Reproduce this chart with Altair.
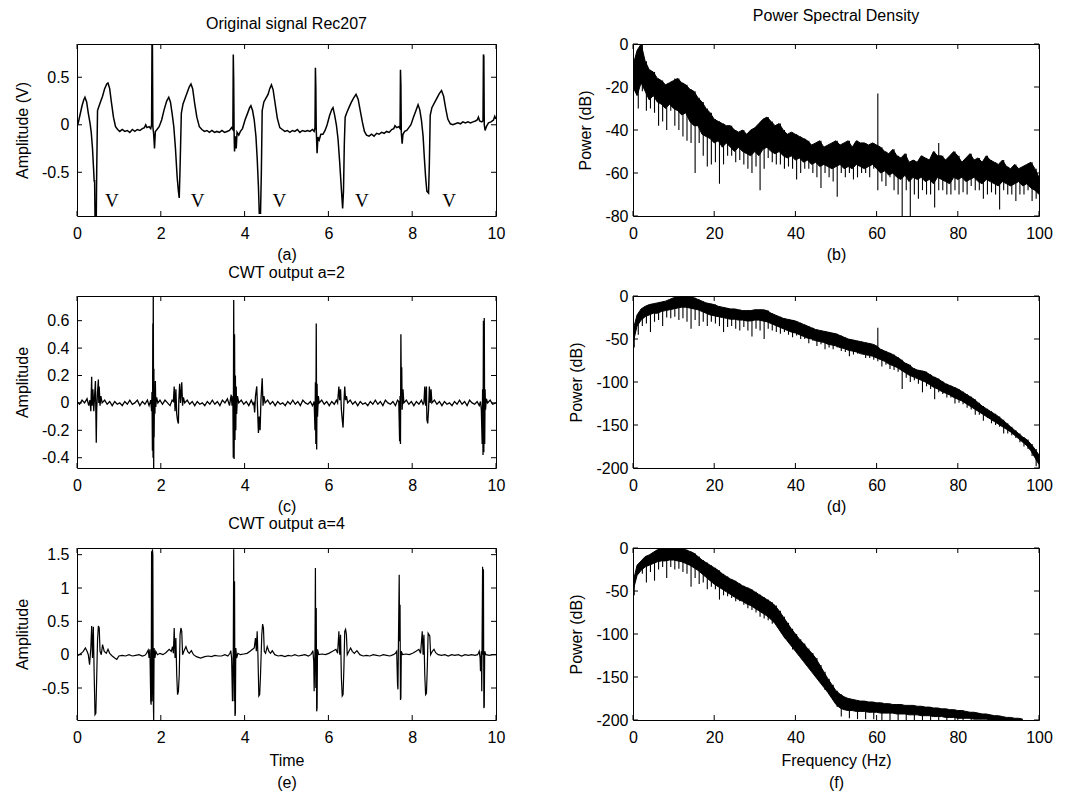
import altair as alt
import pandas as pd

FONT = "Liberation Sans"

# ---------------- data ----------------
# (a) original ECG signal, Rec207: (time s, amplitude V)
ecg_points = [
    (0.00,-0.02),(0.03,0.02),(0.07,0.10),(0.12,0.20),(0.16,0.26),(0.19,0.29),(0.23,0.24),(0.27,0.12),(0.31,0.02),
    (0.34,-0.08),(0.37,-0.25),(0.40,-0.50),(0.41,-0.60),(0.42,-0.58),(0.43,-0.97),(0.46,-0.97),(0.47,-0.50),(0.49,0.15),
    (0.52,0.19),(0.56,0.24),(0.61,0.30),(0.66,0.38),(0.71,0.43),(0.74,0.44),(0.78,0.38),(0.82,0.24),(0.87,0.08),
    (0.92,-0.02),(0.97,-0.05),(1.02,-0.07),(1.08,-0.05),(1.14,-0.07),(1.20,-0.06),(1.26,-0.08),(1.32,-0.05),(1.38,-0.07),
    (1.44,-0.05),(1.50,-0.06),(1.56,-0.04),(1.61,-0.03),(1.64,0.00),(1.67,-0.03),(1.72,-0.02),(1.76,-0.04),(1.78,0.00),
    (1.79,0.86),(1.80,0.86),(1.81,-0.02),(1.83,-0.10),(1.85,-0.25),(1.87,-0.07),(1.91,-0.05),(1.96,-0.02),
    (2.02,0.05),(2.08,0.16),(2.14,0.25),(2.19,0.29),(2.23,0.24),(2.27,0.12),(2.31,-0.02),(2.35,-0.25),(2.39,-0.55),
    (2.42,-0.70),(2.44,-0.77),(2.46,-0.45),(2.49,0.12),(2.53,0.22),(2.58,0.28),(2.63,0.34),(2.68,0.40),(2.72,0.43),
    (2.76,0.38),(2.81,0.22),(2.86,0.08),(2.92,-0.02),(2.98,-0.05),(3.04,-0.07),(3.10,-0.06),(3.16,-0.08),(3.22,-0.06),
    (3.28,-0.08),(3.34,-0.07),(3.40,-0.08),(3.46,-0.06),(3.52,-0.08),(3.58,-0.07),(3.64,-0.06),(3.69,-0.03),(3.72,-0.05),
    (3.73,0.74),(3.74,0.46),(3.75,-0.10),(3.76,-0.28),(3.78,-0.12),(3.80,-0.25),(3.82,-0.08),(3.86,-0.11),(3.90,-0.07),(3.95,-0.04),
    (4.01,0.05),(4.07,0.12),(4.12,0.18),(4.15,0.20),(4.19,0.15),(4.23,0.05),(4.27,-0.12),(4.30,-0.35),(4.33,-0.65),
    (4.35,-0.93),(4.38,-0.93),(4.40,-0.50),(4.42,0.15),(4.46,0.24),(4.51,0.28),(4.56,0.32),(4.60,0.38),(4.64,0.42),
    (4.68,0.37),(4.73,0.22),(4.78,0.07),(4.84,-0.03),(4.90,-0.05),(4.96,-0.07),(5.02,-0.06),(5.08,-0.08),(5.14,-0.06),
    (5.20,-0.07),(5.26,-0.05),(5.32,-0.08),(5.38,-0.06),(5.44,-0.07),(5.50,-0.06),(5.56,-0.07),(5.62,-0.05),(5.66,-0.07),
    (5.68,-0.03),(5.69,0.60),(5.70,0.40),(5.71,-0.05),(5.73,-0.30),(5.75,-0.13),(5.78,-0.16),(5.82,-0.10),(5.87,-0.10),
    (5.92,-0.06),(5.97,0.00),
    (6.03,0.10),(6.08,0.16),(6.11,0.18),(6.15,0.10),(6.19,0.00),(6.23,-0.15),(6.27,-0.40),(6.31,-0.68),(6.34,-0.88),
    (6.36,-0.70),(6.38,-0.20),(6.40,0.08),(6.44,0.13),(6.49,0.18),(6.54,0.23),(6.60,0.28),(6.66,0.32),(6.71,0.27),
    (6.76,0.15),(6.81,0.03),(6.86,-0.07),(6.91,-0.11),(6.97,-0.12),(7.03,-0.10),(7.09,-0.12),(7.15,-0.09),(7.21,-0.10),
    (7.27,-0.08),(7.33,-0.09),(7.39,-0.07),(7.45,-0.08),(7.51,-0.05),(7.56,-0.04),(7.59,-0.01),(7.63,-0.03),(7.68,-0.02),
    (7.71,-0.04),(7.72,0.58),(7.73,0.42),(7.74,-0.08),(7.76,-0.20),(7.78,-0.10),(7.82,-0.07),(7.87,-0.06),(7.92,-0.03),(7.97,0.00),
    (8.03,0.08),(8.09,0.15),(8.14,0.21),(8.18,0.16),(8.22,0.05),(8.26,-0.12),(8.29,-0.35),(8.32,-0.55),(8.35,-0.70),
    (8.39,-0.72),(8.41,-0.40),(8.43,0.10),(8.47,0.18),(8.53,0.23),(8.59,0.28),(8.65,0.33),(8.70,0.36),(8.75,0.30),
    (8.80,0.17),(8.85,0.06),(8.91,0.01),(8.97,0.00),(9.03,0.01),(9.09,0.02),(9.15,0.01),(9.21,0.03),(9.27,0.02),
    (9.33,0.03),(9.39,0.02),(9.45,0.03),(9.51,0.04),(9.55,0.05),(9.58,0.08),(9.61,0.04),(9.66,0.03),(9.69,0.04),
    (9.70,0.74),(9.71,0.72),(9.72,0.00),(9.74,-0.06),(9.77,-0.02),(9.82,0.02),(9.88,0.03),(9.94,0.05),(9.97,0.09),(10.00,0.06),
]
v_label_t = [0.83, 2.88, 4.83, 6.80, 8.88]
v_label_y = [-0.80, -0.80, -0.80, -0.80, -0.80]
v_label_s = ["V", "V", "V", "V", "V"]

# (c) CWT output a=2
cwt2_points = [
    (0.00,0.01),(0.06,-0.01),(0.12,0.02),(0.18,0.00),(0.24,0.03),(0.28,-0.02),(0.31,0.02),
    (0.33,-0.06),(0.35,0.19),(0.36,-0.02),(0.38,0.10),(0.40,-0.06),(0.42,0.05),(0.44,0.16),(0.45,-0.06),(0.46,-0.29),
    (0.47,-0.05),(0.49,0.08),(0.51,0.17),(0.52,0.00),(0.53,0.12),(0.55,-0.02),(0.57,0.05),(0.60,0.00),
    (0.66,0.02),(0.72,-0.01),(0.78,0.01),(0.84,-0.02),(0.90,0.01),(0.96,-0.01),(1.02,0.00),(1.08,-0.02),(1.14,0.01),
    (1.20,-0.01),(1.26,0.02),(1.32,-0.01),(1.38,0.00),(1.44,0.02),(1.50,-0.02),(1.56,0.01),(1.62,-0.01),(1.68,0.02),(1.72,-0.02),
    (1.76,0.02),(1.78,-0.06),(1.79,0.08),(1.80,-0.35),(1.81,0.58),(1.815,-0.40),(1.82,0.80),(1.83,-0.50),(1.835,0.25),
    (1.84,-0.25),(1.85,0.10),(1.86,-0.08),(1.87,0.16),(1.88,-0.03),(1.90,0.04),(1.93,0.00),
    (1.98,0.02),(2.04,-0.01),(2.10,0.02),(2.16,0.00),(2.22,-0.02),(2.27,0.02),
    (2.30,0.01),(2.32,0.12),(2.34,-0.06),(2.36,0.10),(2.38,-0.08),(2.40,-0.13),(2.42,-0.15),(2.43,0.02),(2.45,0.14),
    (2.47,0.00),(2.50,0.15),(2.52,-0.02),(2.54,0.04),(2.57,0.00),
    (2.63,0.02),(2.69,-0.01),(2.75,0.01),(2.81,-0.02),(2.87,0.01),(2.93,-0.01),(2.99,0.00),(3.05,-0.02),(3.11,0.01),
    (3.17,-0.01),(3.23,0.02),(3.29,-0.01),(3.35,0.01),(3.41,-0.02),(3.47,0.02),(3.53,0.00),(3.59,0.03),(3.64,-0.02),(3.68,0.06),
    (3.70,-0.02),(3.72,0.05),(3.73,-0.40),(3.74,0.75),(3.75,-0.41),(3.76,0.50),(3.77,-0.27),(3.78,0.20),(3.79,-0.20),
    (3.80,0.12),(3.81,-0.08),(3.83,0.05),(3.86,0.00),
    (3.92,0.02),(3.98,-0.01),(4.04,0.01),(4.10,-0.02),(4.16,0.02),(4.20,-0.01),
    (4.22,0.00),(4.24,-0.07),(4.26,0.05),(4.29,0.12),(4.31,-0.05),(4.33,-0.22),(4.35,-0.10),(4.37,-0.20),(4.39,0.02),
    (4.42,0.18),(4.44,-0.02),(4.46,0.05),(4.49,0.00),
    (4.55,0.02),(4.61,-0.01),(4.67,0.01),(4.73,-0.02),(4.79,0.01),(4.85,-0.01),(4.91,0.00),(4.97,-0.02),(5.03,0.01),
    (5.09,-0.01),(5.15,0.02),(5.21,-0.01),(5.27,0.01),(5.33,-0.02),(5.39,0.02),(5.45,0.00),(5.51,-0.01),(5.57,0.01),(5.62,-0.02),
    (5.66,0.01),(5.68,-0.20),(5.69,0.15),(5.70,-0.30),(5.71,0.58),(5.72,-0.34),(5.73,0.14),(5.74,-0.10),(5.76,0.05),(5.78,0.00),
    (5.84,0.02),(5.90,-0.01),(5.96,0.01),(6.02,-0.02),(6.08,0.01),(6.14,-0.01),(6.19,0.02),
    (6.22,0.00),(6.25,0.12),(6.27,0.02),(6.29,0.10),(6.31,-0.05),(6.33,-0.12),(6.35,-0.18),(6.37,0.00),(6.39,0.12),
    (6.41,0.02),(6.43,0.05),(6.46,0.00),
    (6.52,0.02),(6.58,-0.01),(6.64,0.01),(6.70,-0.02),(6.76,0.01),(6.82,-0.01),(6.88,0.00),(6.94,-0.02),(7.00,0.01),
    (7.06,-0.01),(7.12,0.02),(7.18,-0.01),(7.24,0.01),(7.30,-0.02),(7.36,0.02),(7.42,0.00),(7.48,-0.01),(7.54,0.01),
    (7.60,-0.02),(7.65,0.02),
    (7.68,0.01),(7.70,-0.28),(7.71,0.05),(7.72,-0.30),(7.73,0.50),(7.74,0.10),(7.75,0.26),(7.76,-0.05),(7.78,0.10),(7.80,0.00),
    (7.86,0.02),(7.92,-0.01),(7.98,0.01),(8.04,-0.02),(8.10,0.01),(8.16,-0.01),(8.22,0.02),(8.26,-0.01),
    (8.28,0.00),(8.30,0.12),(8.32,-0.02),(8.34,0.12),(8.35,-0.12),(8.37,-0.15),(8.39,-0.05),(8.41,0.12),(8.43,0.00),
    (8.45,0.10),(8.47,0.00),
    (8.53,0.02),(8.59,-0.01),(8.65,0.01),(8.71,-0.02),(8.77,0.01),(8.83,-0.01),(8.89,0.00),(8.95,-0.02),(9.01,0.01),
    (9.07,-0.01),(9.13,0.02),(9.19,-0.01),(9.25,0.01),(9.31,-0.02),(9.37,0.02),(9.43,0.00),(9.49,-0.01),(9.55,0.01),(9.60,-0.02),
    (9.63,0.01),(9.65,-0.05),(9.67,-0.30),(9.68,0.10),(9.69,-0.38),(9.70,0.60),(9.71,-0.36),(9.72,0.62),(9.73,-0.30),
    (9.74,0.10),(9.75,-0.05),(9.77,0.03),(9.80,0.00),(9.86,0.02),(9.92,-0.01),(10.00,0.00),
]

# (e) CWT output a=4
cwt4_points = [
    (0.00,-0.02),(0.05,0.00),(0.10,0.02),(0.15,0.05),(0.20,0.10),(0.24,0.05),(0.27,0.00),(0.30,-0.15),(0.33,0.10),
    (0.35,0.43),(0.37,-0.05),(0.39,0.42),(0.41,-0.30),(0.43,-0.90),(0.45,-0.88),(0.47,-0.35),(0.49,0.22),(0.51,0.43),
    (0.53,0.40),(0.55,0.05),(0.58,0.00),(0.61,0.15),(0.65,0.05),(0.70,0.02),(0.74,0.08),(0.78,0.02),(0.84,-0.02),
    (0.90,-0.05),(0.95,-0.07),(1.00,-0.02),(1.08,-0.01),(1.16,-0.02),(1.24,0.00),(1.32,-0.02),(1.40,-0.01),(1.48,0.00),
    (1.56,-0.02),(1.62,-0.01),
    (1.66,0.02),(1.70,0.07),(1.72,-0.05),(1.74,0.08),(1.76,-0.70),(1.77,-0.75),(1.78,1.55),(1.79,-0.70),(1.80,1.58),
    (1.81,1.50),(1.82,-0.60),(1.83,-0.99),(1.84,0.10),(1.86,-0.05),(1.88,0.05),(1.92,0.00),
    (1.98,0.02),(2.05,0.00),(2.12,0.03),(2.20,0.08),(2.25,0.05),(2.28,0.12),(2.30,0.02),(2.32,0.40),(2.34,-0.05),
    (2.36,0.25),(2.38,-0.30),(2.40,-0.60),(2.42,-0.55),(2.44,-0.30),(2.46,0.30),(2.48,0.40),(2.50,0.35),(2.52,0.00),
    (2.55,0.05),(2.60,0.12),(2.64,0.05),(2.68,0.02),(2.73,0.06),(2.78,0.00),(2.85,-0.03),(2.95,-0.05),(3.05,-0.03),
    (3.13,-0.02),(3.21,-0.03),(3.29,-0.01),(3.37,-0.02),(3.45,-0.02),(3.53,0.00),(3.60,-0.02),
    (3.65,0.02),(3.67,0.06),(3.69,-0.05),(3.71,-0.70),(3.73,0.10),(3.74,1.58),(3.75,-0.70),(3.76,1.10),(3.77,-0.92),
    (3.78,-0.88),(3.79,0.10),(3.81,-0.05),(3.84,0.02),(3.90,0.00),
    (3.98,0.01),(4.06,0.02),(4.13,0.05),(4.19,0.08),(4.23,0.10),(4.26,0.25),(4.28,0.05),(4.30,0.35),(4.32,-0.05),
    (4.34,-0.62),(4.36,-0.60),(4.38,-0.30),(4.41,0.30),(4.43,0.46),(4.45,0.40),(4.47,0.05),(4.50,0.02),(4.54,0.12),
    (4.58,0.05),(4.62,0.02),(4.66,0.06),(4.72,0.00),(4.80,-0.02),(4.88,-0.01),(4.96,-0.03),(5.04,-0.01),(5.12,-0.02),
    (5.20,0.00),(5.28,-0.02),(5.36,-0.01),(5.44,0.00),(5.52,-0.02),(5.58,0.00),
    (5.61,0.03),(5.63,0.06),(5.65,-0.10),(5.66,-0.55),(5.68,0.10),(5.69,1.30),(5.70,-0.50),(5.71,0.70),(5.72,-0.85),
    (5.73,-0.80),(5.74,0.08),(5.77,0.00),
    (5.85,0.01),(5.93,0.00),(6.01,0.02),(6.10,0.05),(6.18,0.08),(6.22,0.02),(6.25,0.35),(6.27,0.00),(6.29,0.30),
    (6.31,-0.35),(6.33,-0.62),(6.35,-0.60),(6.37,-0.20),(6.39,0.35),(6.41,0.38),(6.43,0.30),(6.45,0.00),(6.49,0.05),
    (6.53,0.10),(6.57,0.05),(6.62,0.02),(6.68,0.06),(6.75,0.00),(6.83,-0.02),(6.91,-0.01),(6.99,-0.02),(7.07,0.00),
    (7.15,-0.01),(7.23,-0.02),(7.31,0.00),(7.39,-0.01),(7.47,-0.02),(7.55,0.00),
    (7.60,0.02),(7.63,0.05),(7.65,-0.45),(7.66,-0.52),(7.67,0.10),(7.69,1.20),(7.70,0.20),(7.71,0.75),(7.72,-0.68),
    (7.73,-0.65),(7.74,0.05),(7.77,0.00),
    (7.85,0.01),(7.93,0.00),(8.01,0.02),(8.09,0.05),(8.16,0.08),(8.20,0.02),(8.24,0.35),(8.26,0.00),(8.28,0.30),
    (8.30,-0.30),(8.32,-0.60),(8.34,-0.58),(8.36,-0.20),(8.38,0.32),(8.40,0.30),(8.42,0.28),(8.44,0.00),(8.48,0.05),
    (8.52,0.08),(8.56,0.03),(8.62,0.00),(8.70,-0.01),(8.78,0.00),(8.86,-0.02),(8.94,0.00),(9.02,-0.01),(9.10,0.00),
    (9.18,-0.02),(9.26,0.00),(9.34,-0.01),(9.42,0.00),(9.50,-0.01),(9.56,0.00),
    (9.58,0.02),(9.60,0.05),(9.62,-0.05),(9.63,-0.25),(9.65,0.05),(9.66,-0.55),(9.68,1.32),(9.69,0.00),(9.70,1.28),
    (9.71,-0.80),(9.72,-0.78),(9.73,0.05),(9.76,0.00),(9.84,-0.01),(9.92,0.00),(10.00,0.00),
]

# PSD panels: per 1 Hz bin, top (hi) and bottom (mid) of the dense black band, in dB,
# thin single-bin dips (freq, dB) below the band and thin spikes (freq, dB) above it.
psd_freq = list(range(0, 101))
psd_b_hi = [-10,-3,0,-8,-12,-13,-16,-17,-19,-18,-17,-16,-18,-19,-21,-22,-25,-27,-30,-32,
            -35,-36,-37,-38,-38,-40,-41,-40,-42,-40,-39,-37,-35,-34,-36,-38,-37,-40,-42,-41,
            -42,-43,-44,-45,-47,-46,-45,-48,-47,-46,-45,-47,-46,-45,-48,-45,-46,-46,-47,-46,
            -47,-48,-50,-51,-49,-52,-53,-51,-55,-54,-55,-52,-53,-54,-50,-52,-52,-54,-52,-50,
            -52,-55,-53,-51,-54,-53,-55,-52,-54,-55,-56,-54,-57,-58,-56,-58,-57,-56,-55,-58,-62]
psd_b_mid = [-20,-24,-18,-22,-26,-24,-27,-28,-30,-28,-30,-31,-33,-32,-36,-38,-38,-42,-43,-44,
             -46,-45,-48,-46,-48,-50,-48,-50,-51,-52,-50,-52,-49,-48,-50,-51,-50,-52,-53,-52,
             -54,-53,-55,-54,-56,-55,-57,-56,-57,-58,-57,-56,-58,-57,-58,-56,-57,-58,-57,-56,
             -58,-60,-59,-61,-60,-62,-63,-61,-64,-62,-63,-62,-64,-63,-65,-62,-63,-64,-65,-62,
             -63,-62,-64,-63,-62,-64,-65,-63,-64,-65,-66,-64,-65,-66,-65,-64,-66,-65,-67,-68,-70]
psd_b_dips = [(1,-30),(3,-31),(6,-38),(9,-31),(12,-43),(13,-45),(15,-60),(16,-46),(18,-57),(19,-56),
              (21,-65),(24,-52),(26,-54),(29,-60),(31,-68),(33,-53),(36,-56),(38,-57),(40,-63),(42,-58),
              (44,-60),(46,-67),(48,-62),(50,-71),(52,-62),(54,-63),(57,-60),(58,-62),(60,-68),(63,-62),
              (66,-82),(68,-82),(70,-72),(72,-70),(74,-76),(76,-68),(78,-70),(80,-70),(82,-70),(84,-68),
              (86,-72),(88,-69),(90,-77),(92,-70),(94,-73),(96,-70),(98,-73),(99,-72),
              (2,-22),(4,-30),(5,-32),(7,-36),(8,-40),(10,-38),(11,-40),(14,-46),(17,-52),(20,-55),
              (22,-56),(23,-52),(25,-55),(27,-56),(28,-58),(30,-57),(32,-58),(34,-55),(35,-56),(37,-58),
              (39,-58),(41,-60),(43,-58),(45,-62),(47,-60),(49,-64),(51,-60),(53,-60),(55,-62),(56,-60),
              (59,-58),(61,-64),(62,-66),(64,-68),(65,-70),(67,-68),(69,-70),(71,-68),(73,-70),(75,-68),
              (77,-70),(79,-68),(81,-69),(83,-66),(85,-68),(87,-70),(89,-70),(91,-68),(93,-70),(95,-70),
              (97,-68),(100,-72)]
psd_b_spikes = [(2,0),(5,-13),(10,-16),(60,-23),(75,-46)]

psd_d_hi = [-40,-22,-15,-12,-10,-9,-8,-7,-6,-4,-2,-1,0,0,-1,-2,-4,-6,-8,-9,
            -10,-12,-13,-14,-15,-15,-16,-17,-17,-17,-16,-16,-16,-17,-20,-22,-24,-26,-27,-28,
            -29,-31,-33,-35,-37,-39,-40,-41,-42,-43,-44,-46,-48,-50,-51,-52,-53,-54,-55,-56,
            -58,-62,-64,-66,-68,-71,-74,-78,-80,-84,-86,-87,-88,-91,-94,-96,-99,-102,-104,-106,
            -108,-111,-114,-117,-120,-124,-128,-131,-134,-137,-140,-144,-148,-152,-156,-160,-164,-167,-172,-178,-185]
psd_d_mid = [-55,-35,-28,-24,-22,-20,-20,-18,-17,-16,-15,-14,-13,-13,-14,-15,-16,-18,-20,-22,
             -23,-24,-25,-26,-27,-27,-28,-28,-29,-29,-28,-28,-29,-30,-32,-34,-36,-38,-40,-42,
             -43,-45,-47,-49,-50,-52,-53,-54,-56,-57,-58,-60,-61,-63,-64,-65,-67,-68,-69,-70,
             -72,-74,-76,-79,-81,-83,-86,-89,-92,-94,-96,-98,-100,-103,-106,-108,-111,-113,-115,-118,
             -120,-122,-125,-128,-131,-134,-137,-140,-143,-146,-149,-152,-155,-158,-162,-166,-170,-174,-180,-188,-196]
psd_d_dips = [(0,-60),(4,-42),(7,-35),(14,-38),(16,-35),(18,-35),(22,-42),(26,-40),(29,-47),(32,-50),
              (35,-42),(38,-45),(40,-46),(42,-50),(44,-52),(47,-62),(50,-60),(53,-70),(56,-65),(58,-72),
              (61,-82),(63,-85),(66,-108),(68,-100),(71,-112),(74,-120),(77,-118),(79,-125),(82,-130),
              (84,-138),(86,-145),(88,-148),(91,-160),(94,-165),(96,-175),(99,-198),
              (1,-45),(2,-35),(3,-32),(5,-30),(6,-28),(8,-25),(9,-26),(10,-24),(11,-28),(12,-26),
              (13,-30),(15,-28),(17,-30),(19,-30),(20,-32),(21,-35),(23,-36),(24,-35),(25,-38),(27,-36),
              (28,-40),(30,-38),(31,-40),(33,-38),(34,-40),(36,-44),(37,-42),(39,-48),(41,-50),(43,-55),
              (45,-58),(46,-56),(48,-60),(49,-62),(51,-64),(52,-65),(54,-68),(55,-67),(57,-72),(59,-74),
              (60,-76),(62,-80),(64,-86),(65,-88),(67,-95),(69,-98),(70,-102),(72,-105),(73,-108),(75,-112),
              (76,-114),(78,-118),(80,-124),(81,-126),(83,-132),(85,-138),(87,-142),(89,-150),(90,-152),
              (92,-160),(93,-162),(95,-170),(97,-178),(98,-186)]
psd_d_spikes = [(60,-37)]

psd_f_freq = list(range(0, 97))
psd_f_hi = [-40,-20,-15,-10,-8,-5,-2,0,0,0,0,0,0,-2,-4,-6,-10,-14,-17,-20,
            -23,-26,-30,-33,-36,-38,-41,-44,-46,-48,-51,-54,-57,-60,-63,-67,-73,-80,-87,-94,
            -100,-106,-111,-117,-122,-128,-136,-144,-152,-159,-166,-170,-173,-175,-176,-177,-178,-178,-179,-179,
            -180,-180,-181,-181,-182,-182,-182,-183,-183,-183,-184,-184,-185,-185,-186,-186,-187,-187,-188,-188,
            -189,-189,-190,-191,-191,-192,-193,-193,-194,-195,-195,-196,-197,-197,-198,-198,-199]
psd_f_mid = [-50,-32,-26,-22,-20,-18,-16,-15,-15,-14,-14,-15,-16,-18,-20,-23,-26,-30,-34,-38,
             -42,-45,-48,-51,-54,-57,-60,-62,-65,-67,-70,-73,-76,-79,-83,-88,-95,-102,-108,-114,
             -120,-126,-132,-138,-144,-150,-156,-162,-168,-175,-182,-186,-188,-189,-189,-190,-190,-190,-191,-191,
             -191,-192,-192,-192,-192,-193,-193,-193,-194,-194,-194,-195,-195,-195,-196,-196,-196,-197,-197,-197,
             -198,-198,-198,-198,-199,-199,-199,-199,-200,-200,-200,-200,-200,-200,-200,-200,-200]
psd_f_dips = [(0,-55),(1,-30),(3,-40),(5,-38),(8,-35),(14,-45),(16,-42),(18,-48),(21,-60),(24,-58),
              (26,-62),(29,-72),(32,-82),(35,-85),(38,-110),(40,-115),(43,-135),(45,-145),(47,-165),
              (49,-175),(51,-196),(53,-198),(55,-199),(57,-199),(59,-199),(61,-200),(63,-200),(65,-200),
              (67,-200),(69,-200),(71,-200),(73,-200),(75,-200),(77,-200),(79,-200),(81,-200),(83,-200),
              (2,-30),(4,-28),(6,-25),(7,-22),(9,-22),(10,-25),(11,-24),(12,-28),(13,-30),(15,-35),
              (17,-40),(19,-45),(20,-48),(22,-55),(23,-56),(25,-62),(27,-66),(28,-70),(30,-75),(31,-80),
              (33,-84),(34,-88),(36,-96),(37,-105),(39,-118),(41,-125),(42,-132),(44,-142),(46,-155),
              (48,-170),(50,-185)]
psd_f_spikes = []

time_ticks = [0, 2, 4, 6, 8, 10]
freq_ticks = [0, 20, 40, 60, 80, 100]


# ---------------- helpers ----------------
def points_df(points):
    return pd.DataFrame({"x": [p[0] for p in points], "y": [p[1] for p in points],
                         "i": list(range(len(points)))})


LBL = "datum.value + ''"


def axes_for(xdom, ydom, xticks, yticks, ytitle, xtitle, ylp, xtp):
    xs = alt.Scale(domain=xdom, nice=False, zero=False)
    ys = alt.Scale(domain=ydom, nice=False, zero=False)
    xax = alt.Axis(values=xticks, title=xtitle, labelExpr=LBL, ticks=False, domain=False,
                   grid=False, labelPadding=9, titlePadding=xtp, labelFlush=False,
                   labelOverlap=False)
    yax = alt.Axis(values=yticks, title=ytitle, labelExpr=LBL, ticks=False, domain=False,
                   grid=False, labelPadding=ylp, titlePadding=11, labelFlush=False,
                   labelOverlap=False)
    return xs, ys, xax, yax


def frame_layers(X, Y, xticks, yticks, w, h):
    xt = pd.DataFrame({"x": xticks})
    yt = pd.DataFrame({"y": yticks})
    return [
        alt.Chart(xt).mark_rule(color="black", strokeWidth=1).encode(x=X, y=alt.value(h), y2=alt.value(h - 5)),
        alt.Chart(xt).mark_rule(color="black", strokeWidth=1).encode(x=X, y=alt.value(0), y2=alt.value(5)),
        alt.Chart(yt).mark_rule(color="black", strokeWidth=1).encode(y=Y, x=alt.value(0), x2=alt.value(5)),
        alt.Chart(yt).mark_rule(color="black", strokeWidth=1).encode(y=Y, x=alt.value(w), x2=alt.value(w - 5)),
    ]


def finish(layers, w, h, title, title_offset):
    props = dict(width=w, height=h)
    if title:
        props["title"] = alt.TitleParams(text=title, font=FONT, fontSize=16, fontWeight="normal",
                                         color="black", offset=title_offset)
    return alt.layer(*layers).properties(**props)


def time_panel(points, ydom, yticks, ytitle, xtitle, title=None, title_offset=15, sw=1.2,
               xtp=5, extra=None):
    xs, ys, xax, yax = axes_for([0, 10], ydom, time_ticks, yticks, ytitle, xtitle, 8, xtp)
    X = alt.X("x:Q", scale=xs, axis=xax)
    Y = alt.Y("y:Q", scale=ys, axis=yax)
    line = alt.Chart(points_df(points)).mark_line(color="black", strokeWidth=sw, clip=True).encode(
        x=X, y=Y, order="i:Q")
    layers = [line] + frame_layers(X, Y, time_ticks, yticks, WL, H)
    if extra is not None:
        layers.append(extra(X, Y))
    return finish(layers, WL, H, title, title_offset)


def psd_panel(freqs, hi, mid, dips, spikes, ydom, yticks, xtitle, title=None, title_offset=12, xtp=5):
    xs, ys, xax, yax = axes_for([0, 100], ydom, freq_ticks, yticks, "Power (dB)", xtitle, 5, xtp)
    X = alt.X("x:Q", scale=xs, axis=xax)
    Y = alt.Y("y:Q", scale=ys, axis=yax)
    Ylow = alt.Y("y2:Q", scale=ys, axis=yax)
    band = pd.DataFrame({"x": freqs, "y": hi, "y2": mid})
    hi_of = dict(zip(freqs, hi))
    marks = list(dips) + list(spikes)
    ddf = pd.DataFrame({"x": [d[0] + 0.3 for d in marks], "y": [d[1] for d in marks],
                        "y2": [hi_of[d[0]] for d in marks]})
    area = alt.Chart(band).mark_area(color="black", clip=True, interpolate="linear").encode(
        x=X, y=Y, y2="y2:Q")
    edge = alt.Chart(band).mark_line(color="black", strokeWidth=1, clip=True).encode(x=X, y=Y)
    low_edge = alt.Chart(band).mark_line(color="black", strokeWidth=1, clip=True).encode(x=X, y=Ylow)
    dip = alt.Chart(ddf).mark_rule(color="black", strokeWidth=1.1, clip=True).encode(
        x=X, y=Y, y2="y2:Q")
    layers = [area, edge, low_edge, dip] + frame_layers(X, Y, freq_ticks, yticks, WR, H)
    return finish(layers, WR, H, title, title_offset)


def v_labels(X, Y):
    vdf = pd.DataFrame({"x": v_label_t, "y": v_label_y, "s": v_label_s})
    return alt.Chart(vdf).mark_text(font="Liberation Serif", fontSize=19, color="black").encode(
        x=X, y=Y, text="s:N")


WL, WR, H = 419, 406, 172

pa = time_panel(ecg_points, [-0.96, 0.85], [-0.5, 0, 0.5], "Amplitude (V)", "(a)",
                title="Original signal Rec207", title_offset=12, sw=1.5, extra=v_labels)
pb = psd_panel(psd_freq, psd_b_hi, psd_b_mid, psd_b_dips, psd_b_spikes, [-80, 0],
               [-80, -60, -40, -20, 0], "(b)", title="Power Spectral Density", title_offset=12)
pc = time_panel(cwt2_points, [-0.475, 0.78], [-0.4, -0.2, 0, 0.2, 0.4, 0.6], "Amplitude", "(c)",
                title="CWT output a=2", title_offset=15, sw=1.3)
pd_ = psd_panel(psd_freq, psd_d_hi, psd_d_mid, psd_d_dips, psd_d_spikes, [-200, 0],
                [-200, -150, -100, -50, 0], "(d)")
pe = time_panel(cwt4_points, [-0.98, 1.6], [-0.5, 0, 0.5, 1, 1.5], "Amplitude", ["Time", "(e)"],
                title="CWT output a=4", title_offset=15, sw=1.2, xtp=7)
pf = psd_panel(psd_f_freq, psd_f_hi, psd_f_mid, psd_f_dips, psd_f_spikes, [-200, 0],
               [-200, -150, -100, -50, 0], ["Frequency (Hz)", "(f)"], xtp=7)

chart = alt.concat(pa, pb, pc, pd_, pe, pf, columns=2,
                   spacing=alt.RowColnumber(row=80, column=137), bounds="flush").properties(
    padding={"left": 13, "top": 7, "right": 5, "bottom": 2},
    background="white",
).configure_view(
    stroke="black", strokeWidth=1
).configure_axis(
    labelFont=FONT, titleFont=FONT, labelFontSize=16, titleFontSize=16,
    titleFontWeight="normal", labelColor="black", titleColor="black",
    titleLineHeight=22,
).configure_title(font=FONT)

chart.save("out.html", embed_options={"renderer": "svg", "actions": False})
